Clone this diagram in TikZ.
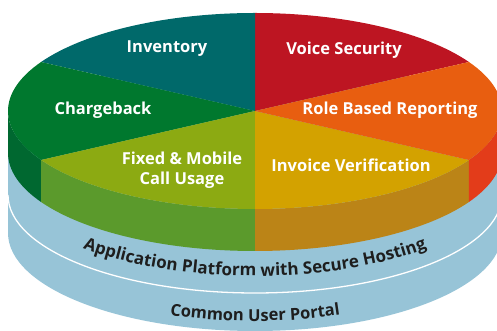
\documentclass[tikz,border=0pt]{standalone}
\usepackage{fontspec}
\setmainfont{Open Sans}
\usetikzlibrary{calc,decorations.text}
\definecolor{cInv}{HTML}{00696A}
\definecolor{cVoice}{HTML}{BD1522}
\definecolor{cRole}{HTML}{E85E10}
\definecolor{cInvoice}{HTML}{D3A200}
\definecolor{cFixed}{HTML}{8CAA12}
\definecolor{cCharge}{HTML}{00782E}
\definecolor{sCharge}{HTML}{006830}
\definecolor{sFixed}{HTML}{5B9A2C}
\definecolor{sInvoice}{HTML}{BB8417}
\definecolor{sRole}{HTML}{E33C1A}
\definecolor{cBlue}{HTML}{97C4D7}
\definecolor{cInk}{HTML}{1E1E1E}
\newcommand\topslice[3]{\fill[#3] (T) -- ($(T)+(#1:247pt and 98pt)$) arc[start angle=#1,end angle=#2,x radius=247pt,y radius=98pt] -- cycle;}
\newcommand\sideface[3]{\fill[#3] ($(T)+(#1:247pt and 98pt)$) arc[start angle=#1,end angle=#2,x radius=247pt,y radius=98pt] -- ($(B)+(#2:247pt and 98pt)$) arc[start angle=#2,end angle=#1,x radius=247pt,y radius=98pt] -- cycle;}
\begin{document}
\begin{tikzpicture}[x=1pt,y=1pt,
  lbl/.style={text=white,font=\fontsize{16.5}{20.5}\selectfont\bfseries,align=center,inner sep=0pt},
  ell/.style={x radius=247pt,y radius=98pt}]
\useasboundingbox (0,0) rectangle (497,331);
\clip (0,0) rectangle (497,331);
\coordinate (T) at (255,220);
\coordinate (B) at (255,178);
\coordinate (W) at (255,136);
\coordinate (L) at (255,98);
% blue base layers
\fill[cBlue] ($(B)+(180:247pt and 98pt)$) -- ($(L)+(180:247pt and 98pt)$)
  arc[start angle=180,end angle=360,ell] -- ($(B)+(0:247pt and 98pt)$)
  arc[start angle=0,end angle=180,ell] -- cycle;
\draw[white,line width=1.3pt] ($(W)+(180:247pt and 98pt)$) arc[start angle=180,end angle=360,ell];
% pie sides
\sideface{180}{210}{sCharge}
\sideface{210}{270}{sFixed}
\sideface{270}{330}{sInvoice}
\sideface{330}{360}{sRole}
% pie top
\topslice{30}{90}{cVoice}
\topslice{90}{150}{cInv}
\topslice{150}{210}{cCharge}
\topslice{210}{270}{cFixed}
\topslice{270}{330}{cInvoice}
\topslice{330}{390}{cRole}
% labels
\node[lbl] (inv) at (167,282) {Inventory};
\node[lbl] (voice) at (344,281) {Voice Security};
\node[lbl] (charge) at (103,221) {Chargeback};
\node[lbl] (role) at (390,221) {Role Based Reporting};
\node[lbl] (fixed) at (182,161) {Fixed \& Mobile\\Call Usage};
\node[lbl] (invoice) at (351,166) {Invoice Verification};
% curved texts
\path[decorate,decoration={text along path,text align=center,text color=cInk,
  text={|\fontsize{17}{20}\selectfont\bfseries|Application Platform with Secure Hosting}}]
  ($(255,153)+(195:247pt and 98pt)$) arc[start angle=195,end angle=345,ell];
\path[decorate,decoration={text along path,text align=center,text color=cInk,
  text={|\fontsize{16.5}{20}\selectfont\bfseries|Common User Portal}}]
  ($(255,108)+(210:247pt and 98pt)$) arc[start angle=210,end angle=330,ell];
\end{tikzpicture}
\end{document}
